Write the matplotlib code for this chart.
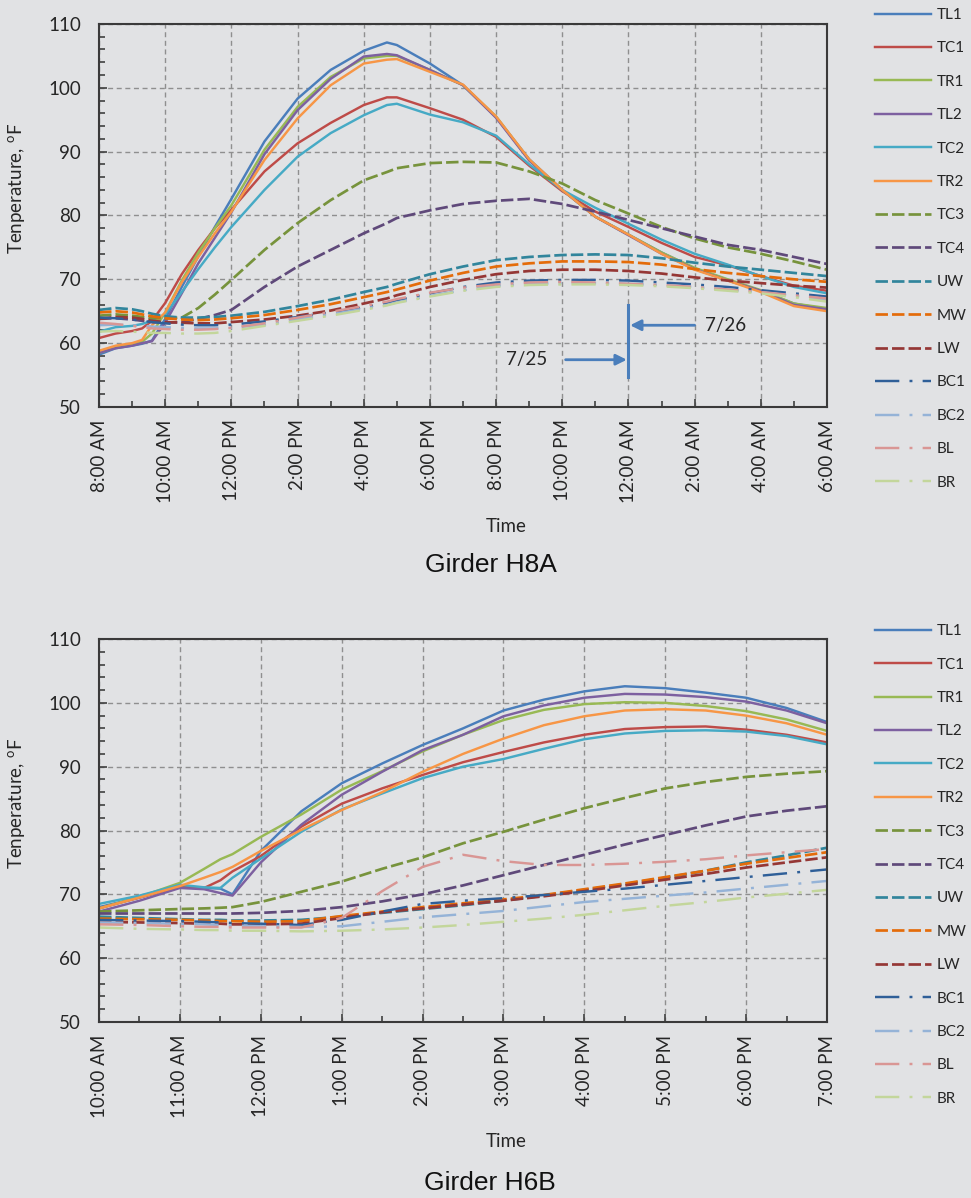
import matplotlib.pyplot as plt
from matplotlib.ticker import MultipleLocator, FixedLocator

plt.rcParams['font.family'] = ['Lato', 'DejaVu Sans']
plt.rcParams['mathtext.fontset'] = 'custom'
plt.rcParams['mathtext.rm'] = 'Lato'

BG = '#e1e2e4'
TXT = '#262626'

# ====================== SENSOR STYLES ======================
sensors = ['TL1', 'TC1', 'TR1', 'TL2', 'TC2', 'TR2', 'TC3', 'TC4',
           'UW', 'MW', 'LW', 'BC1', 'BC2', 'BL', 'BR']
colors = ['#4a7ebb', '#be4b48', '#98b954', '#7d60a0', '#46aac5', '#f79646',
          '#77933c', '#5f497a', '#31859c', '#e46c0a', '#953735',
          '#2f5f98', '#95b3d7', '#d99694', '#c3d69b']
SOLID = '-'
DASH = (0, (4.6, 1.5))
DASHDOT = (0, (10, 4.2, 1.2, 4.2))
styles = [SOLID] * 6 + [DASH] * 5 + [DASHDOT] * 4
widths = [1.75] * 6 + [1.95] * 5 + [1.75] * 4

# ====================== GIRDER H8A (hours after 8:00 AM, 7/25) ======================
h8a_hours = [0, 0.5, 1, 1.3, 1.6, 2, 2.5, 3, 3.5, 4, 5, 6, 7, 8, 8.7, 9, 10,
             11, 12, 13, 14, 15, 16, 17, 18, 19, 20, 21, 22]
h8a_tl1 = [58.2, 59.2, 59.6, 59.9, 60.4, 63.8, 68.8, 73.6, 78.2, 82.6, 91.6, 98.3, 102.8, 105.8, 107.1,
           106.7, 103.8, 100.4, 95.4, 88.8, 84.0, 79.8, 77.0, 74.2, 71.7, 69.9, 68.2, 66.2, 65.3]
h8a_tc1 = [60.8, 61.5, 61.9, 62.3, 63.5, 66.3, 70.8, 74.6, 78.0, 80.9, 86.9, 91.3, 94.5, 97.3, 98.5,
           98.5, 96.8, 95.0, 92.3, 87.8, 83.8, 80.6, 78.2, 75.7, 73.5, 72.2, 70.5, 69.0, 68.2]
h8a_tr1 = [58.5, 59.3, 59.8, 60.2, 61.5, 64.8, 69.8, 74.2, 78.0, 81.6, 90.3, 97.0, 101.7, 104.6, 105.0,
           105.0, 102.8, 100.4, 95.5, 88.7, 84.0, 79.8, 77.0, 74.2, 71.8, 70.0, 68.3, 66.2, 65.5]
h8a_tl2 = [58.5, 59.2, 59.6, 60.0, 60.3, 63.2, 67.8, 72.5, 76.5, 80.5, 89.6, 96.5, 101.4, 104.9, 105.3,
           105.1, 102.8, 100.4, 95.3, 88.6, 84.0, 79.8, 76.9, 74.0, 71.6, 69.8, 68.2, 66.0, 65.3]
h8a_tc2 = [61.8, 62.5, 62.7, 63.0, 63.5, 64.5, 68.0, 71.6, 75.0, 78.2, 84.0, 89.2, 92.9, 95.7, 97.3,
           97.5, 95.8, 94.6, 92.5, 88.0, 84.0, 81.2, 78.7, 76.2, 74.0, 72.3, 70.5, 68.8, 67.8]
h8a_tr2 = [58.8, 59.6, 60.0, 60.5, 62.8, 64.8, 69.5, 73.5, 77.2, 80.6, 88.7, 95.2, 100.4, 103.8, 104.4,
           104.5, 102.5, 100.5, 95.5, 88.8, 84.0, 79.8, 77.0, 74.0, 71.5, 69.8, 68.0, 65.8, 65.0]
h8a_tc3 = [64.3, 64.5, 64.3, 64.1, 63.9, 63.9, 64.0, 65.5, 67.6, 69.9, 74.6, 78.8, 82.4, 85.5, 86.8,
           87.4, 88.2, 88.4, 88.3, 86.9, 85.0, 82.4, 80.3, 78.2, 76.4, 75.0, 74.0, 72.8, 71.5]
h8a_tc4 = [63.8, 63.9, 63.7, 63.5, 63.3, 63.2, 63.3, 63.8, 64.4, 65.2, 68.8, 72.0, 74.6, 77.2, 78.8,
           79.6, 80.8, 81.8, 82.3, 82.6, 81.8, 80.6, 79.3, 78.0, 76.7, 75.4, 74.6, 73.5, 72.4]
h8a_uw = [65.2, 65.5, 65.3, 65.0, 64.6, 64.2, 64.0, 64.0, 64.1, 64.3, 64.9, 65.8, 66.8, 68.0, 68.8,
          69.3, 70.8, 72.0, 73.0, 73.5, 73.8, 73.9, 73.8, 73.3, 72.6, 72.0, 71.5, 71.0, 70.5]
h8a_mw = [64.8, 65.0, 64.8, 64.5, 64.2, 63.9, 63.7, 63.6, 63.7, 63.9, 64.4, 65.2, 66.1, 67.2, 68.0,
          68.4, 69.8, 71.0, 72.0, 72.5, 72.8, 72.8, 72.7, 72.3, 71.6, 71.0, 70.5, 70.0, 69.6]
h8a_lw = [63.8, 64.1, 64.0, 63.8, 63.5, 63.3, 63.2, 63.1, 63.1, 63.3, 63.7, 64.3, 65.1, 66.2, 67.0,
          67.5, 68.8, 69.9, 70.8, 71.3, 71.5, 71.5, 71.3, 70.9, 70.3, 69.8, 69.4, 69.0, 68.7]
h8a_bc1 = [64.0, 63.9, 63.7, 63.5, 63.3, 63.1, 62.9, 62.8, 62.8, 62.9, 63.4, 64.1, 64.8, 65.6, 66.3,
           66.7, 67.8, 68.8, 69.5, 69.8, 69.9, 69.9, 69.8, 69.5, 69.2, 68.8, 68.3, 67.8, 67.3]
h8a_bc2 = [62.8, 62.9, 62.8, 62.7, 62.6, 62.5, 62.4, 62.3, 62.3, 62.4, 62.9, 63.7, 64.5, 65.4, 66.0,
           66.4, 67.4, 68.3, 69.0, 69.3, 69.4, 69.4, 69.3, 69.1, 68.8, 68.4, 68.0, 67.4, 66.8]
h8a_bl = [63.2, 63.0, 62.7, 62.5, 62.3, 62.2, 62.1, 62.1, 62.2, 62.4, 63.1, 64.0, 64.9, 65.8, 66.5,
          66.9, 67.9, 68.7, 69.2, 69.5, 69.6, 69.5, 69.3, 69.1, 68.8, 68.4, 68.0, 67.5, 67.0]
h8a_br = [61.8, 61.9, 61.8, 61.7, 61.6, 61.6, 61.5, 61.5, 61.6, 61.9, 62.7, 63.5, 64.3, 65.2, 65.9,
          66.3, 67.3, 68.2, 68.8, 69.1, 69.2, 69.2, 69.1, 68.9, 68.6, 68.2, 67.8, 67.2, 66.5]
h8a_ticks = [0, 2, 4, 6, 8, 10, 12, 14, 16, 18, 20, 22]
h8a_labels = ['8:00 AM', '10:00 AM', '12:00 PM', '2:00 PM', '4:00 PM', '6:00 PM',
              '8:00 PM', '10:00 PM', '12:00 AM', '2:00 AM', '4:00 AM', '6:00 AM']

# ====================== GIRDER H6B (hours after 10:00 AM) ======================
h6b_hours = [0, 0.5, 1, 1.3, 1.5, 1.65, 2, 2.5, 3, 3.5, 4, 4.5, 5, 5.5, 6, 6.5, 7, 7.5, 8, 8.5, 9]
h6b_tl1 = [68.0, 69.5, 71.3, 71.0, 70.9, 70.0, 76.8, 83.0, 87.4, 90.5, 93.4, 96.0, 98.8, 100.5,
           101.8, 102.6, 102.3, 101.6, 100.8, 99.2, 97.0]
h6b_tc1 = [67.8, 69.5, 71.2, 71.0, 72.2, 73.6, 76.0, 80.6, 84.2, 86.6, 88.7, 90.7, 92.3, 93.8,
           95.0, 95.9, 96.2, 96.3, 95.8, 95.0, 93.8]
h6b_tr1 = [67.8, 69.6, 71.8, 74.0, 75.5, 76.3, 79.0, 82.5, 86.4, 89.3, 92.4, 95.0, 97.3, 98.9,
           99.8, 100.1, 100.0, 99.5, 98.7, 97.4, 95.6]
h6b_tl2 = [67.3, 69.0, 71.0, 70.8, 70.2, 69.8, 75.0, 80.9, 85.6, 89.2, 92.6, 95.0, 97.9, 99.6,
           100.8, 101.4, 101.3, 100.9, 100.2, 98.8, 96.8]
h6b_tc2 = [68.5, 69.8, 71.5, 71.1, 71.0, 72.6, 75.6, 79.8, 83.3, 85.8, 88.2, 90.0, 91.2, 92.8,
           94.3, 95.2, 95.6, 95.7, 95.5, 94.8, 93.5]
h6b_tr2 = [67.8, 69.5, 71.3, 72.6, 73.5, 74.3, 76.8, 80.1, 83.2, 86.0, 89.2, 92.0, 94.4, 96.5,
           97.9, 98.8, 99.0, 98.8, 98.0, 96.8, 95.0]
h6b_tc3 = [67.3, 67.5, 67.7, 67.8, 67.9, 68.0, 68.8, 70.4, 72.0, 74.0, 75.8, 78.0, 79.8, 81.7,
           83.5, 85.1, 86.6, 87.6, 88.4, 88.9, 89.3]
h6b_tc4 = [67.0, 67.0, 67.0, 67.0, 67.0, 67.0, 67.1, 67.4, 68.0, 68.9, 70.0, 71.4, 73.0, 74.6,
           76.2, 77.8, 79.3, 80.8, 82.2, 83.1, 83.8]
h6b_uw = [66.5, 66.3, 66.1, 66.0, 66.0, 65.9, 65.9, 66.0, 66.5, 67.1, 67.7, 68.3, 69.0, 69.8,
          70.7, 71.6, 72.6, 73.7, 75.0, 76.1, 77.3]
h6b_mw = [66.2, 66.1, 66.0, 65.9, 65.8, 65.8, 65.7, 65.8, 66.6, 67.3, 68.0, 68.6, 69.2, 69.9,
          70.8, 71.7, 72.7, 73.7, 74.8, 75.7, 76.6]
h6b_lw = [65.7, 65.6, 65.5, 65.4, 65.4, 65.3, 65.3, 65.4, 66.3, 67.2, 67.8, 68.4, 69.0, 69.7,
          70.5, 71.4, 72.3, 73.2, 74.2, 75.0, 75.8]
h6b_bc1 = [66.0, 65.9, 65.8, 65.7, 65.6, 65.5, 65.4, 65.2, 66.0, 67.3, 68.5, 69.0, 69.4, 69.9,
           70.4, 70.9, 71.5, 72.1, 72.7, 73.3, 73.9]
h6b_bc2 = [65.6, 65.5, 65.4, 65.3, 65.2, 65.1, 65.0, 64.9, 65.0, 65.7, 66.4, 66.9, 67.4, 68.1,
           68.8, 69.3, 69.8, 70.3, 70.9, 71.5, 72.1]
h6b_bl = [65.3, 65.2, 65.0, 64.9, 64.9, 64.8, 64.8, 64.8, 66.3, 70.5, 74.3, 76.2, 75.2, 74.6,
          74.6, 74.8, 75.1, 75.5, 76.1, 76.6, 77.1]
h6b_br = [64.8, 64.6, 64.5, 64.4, 64.4, 64.3, 64.3, 64.2, 64.3, 64.5, 64.8, 65.2, 65.7, 66.2,
          66.8, 67.5, 68.2, 68.8, 69.5, 70.1, 70.7]
h6b_ticks = [0, 1, 2, 3, 4, 5, 6, 7, 8, 9]
h6b_labels = ['10:00 AM', '11:00 AM', '12:00 PM', '1:00 PM', '2:00 PM', '3:00 PM',
              '4:00 PM', '5:00 PM', '6:00 PM', '7:00 PM']

h8a_series = [h8a_tl1, h8a_tc1, h8a_tr1, h8a_tl2, h8a_tc2, h8a_tr2, h8a_tc3, h8a_tc4,
              h8a_uw, h8a_mw, h8a_lw, h8a_bc1, h8a_bc2, h8a_bl, h8a_br]
h6b_series = [h6b_tl1, h6b_tc1, h6b_tr1, h6b_tl2, h6b_tc2, h6b_tr2, h6b_tc3, h6b_tc4,
              h6b_uw, h6b_mw, h6b_lw, h6b_bc1, h6b_bc2, h6b_bl, h6b_br]


def draw_panel(ax, hours, series, ticks, labels, minor_step, legend_top):
    for name, vals, c, ls, lw in zip(sensors, series, colors, styles, widths):
        ax.plot(hours, vals, color=c, linestyle=ls, linewidth=lw, label=name)
    ax.set_facecolor(BG)
    ax.set_xlim(ticks[0], ticks[-1])
    ax.set_ylim(50, 110)
    ax.xaxis.set_major_locator(FixedLocator(ticks))
    ax.set_xticklabels(labels, rotation=90, va='top', ha='center')
    ax.xaxis.set_minor_locator(MultipleLocator(minor_step))
    ax.yaxis.set_major_locator(MultipleLocator(10))
    ax.yaxis.set_minor_locator(MultipleLocator(2))
    ax.tick_params(which='both', direction='in', colors='#404040', labelcolor=TXT,
                   labelsize=13.5, top=False, right=False)
    ax.tick_params(which='major', length=6, width=1.2)
    ax.tick_params(which='minor', length=4.5, width=1.2)
    ax.tick_params(axis='y', pad=13)
    ax.tick_params(axis='x', pad=9)
    ax.grid(True, which='major', color='#8f8f8f', linestyle=(0, (3.6, 2.6)), linewidth=1.0)
    for sp in ax.spines.values():
        sp.set_color('#3a3a3a')
        sp.set_linewidth(1.5)
    ax.set_ylabel('Tenperature, $^{\\mathrm{o}}$F', fontsize=13.5, color=TXT)
    ax.yaxis.set_label_coords(-0.0975, 0.57)
    ax.set_xlabel('Time', fontsize=13.5, color=TXT)
    ax.xaxis.set_label_coords(0.559, -0.29)
    ax.legend(loc='upper left', bbox_to_anchor=(0.901, legend_top), bbox_transform=fig.transFigure,
              frameon=False, fontsize=11, handlelength=3.7, handletextpad=0.35,
              labelspacing=1.27, borderpad=0, borderaxespad=0, labelcolor=TXT)


fig = plt.figure(figsize=(9.71, 11.98), dpi=100, facecolor=BG)
ax1 = fig.add_axes([0.102, 0.6603, 0.7497, 0.3197])
ax2 = fig.add_axes([0.102, 0.1469, 0.7497, 0.3197])

draw_panel(ax1, h8a_hours, h8a_series, h8a_ticks, h8a_labels, 1, 0.9933)
draw_panel(ax2, h6b_hours, h6b_series, h6b_ticks, h6b_labels, 0.5, 0.4790)

# midnight marker separating 7/25 and 7/26
mark = '#4a7ebb'
ax1.plot([16, 16], [54.7, 66.0], color=mark, linewidth=2.2)
ax1.annotate('', xy=(16.05, 62.8), xytext=(18.0, 62.8),
             arrowprops=dict(arrowstyle='-|>', color=mark, lw=2, mutation_scale=16, shrinkA=0, shrinkB=0))
ax1.annotate('', xy=(15.95, 57.4), xytext=(14.1, 57.4),
             arrowprops=dict(arrowstyle='-|>', color=mark, lw=2, mutation_scale=16, shrinkA=0, shrinkB=0))
ax1.text(18.3, 62.8, '7/26', fontsize=13.5, color=TXT, va='center', ha='left')
ax1.text(13.55, 57.4, '7/25', fontsize=13.5, color=TXT, va='center', ha='right')

fig.text(0.5057, 1 - 565 / 1198, 'Girder H8A', fontsize=19, family='Liberation Sans',
         color='#111111', ha='center', va='center')
fig.text(0.5047, 1 - 1183 / 1198, 'Girder H6B', fontsize=19, family='Liberation Sans',
         color='#111111', ha='center', va='center')

fig.savefig('out.png', dpi=100, facecolor=BG)
